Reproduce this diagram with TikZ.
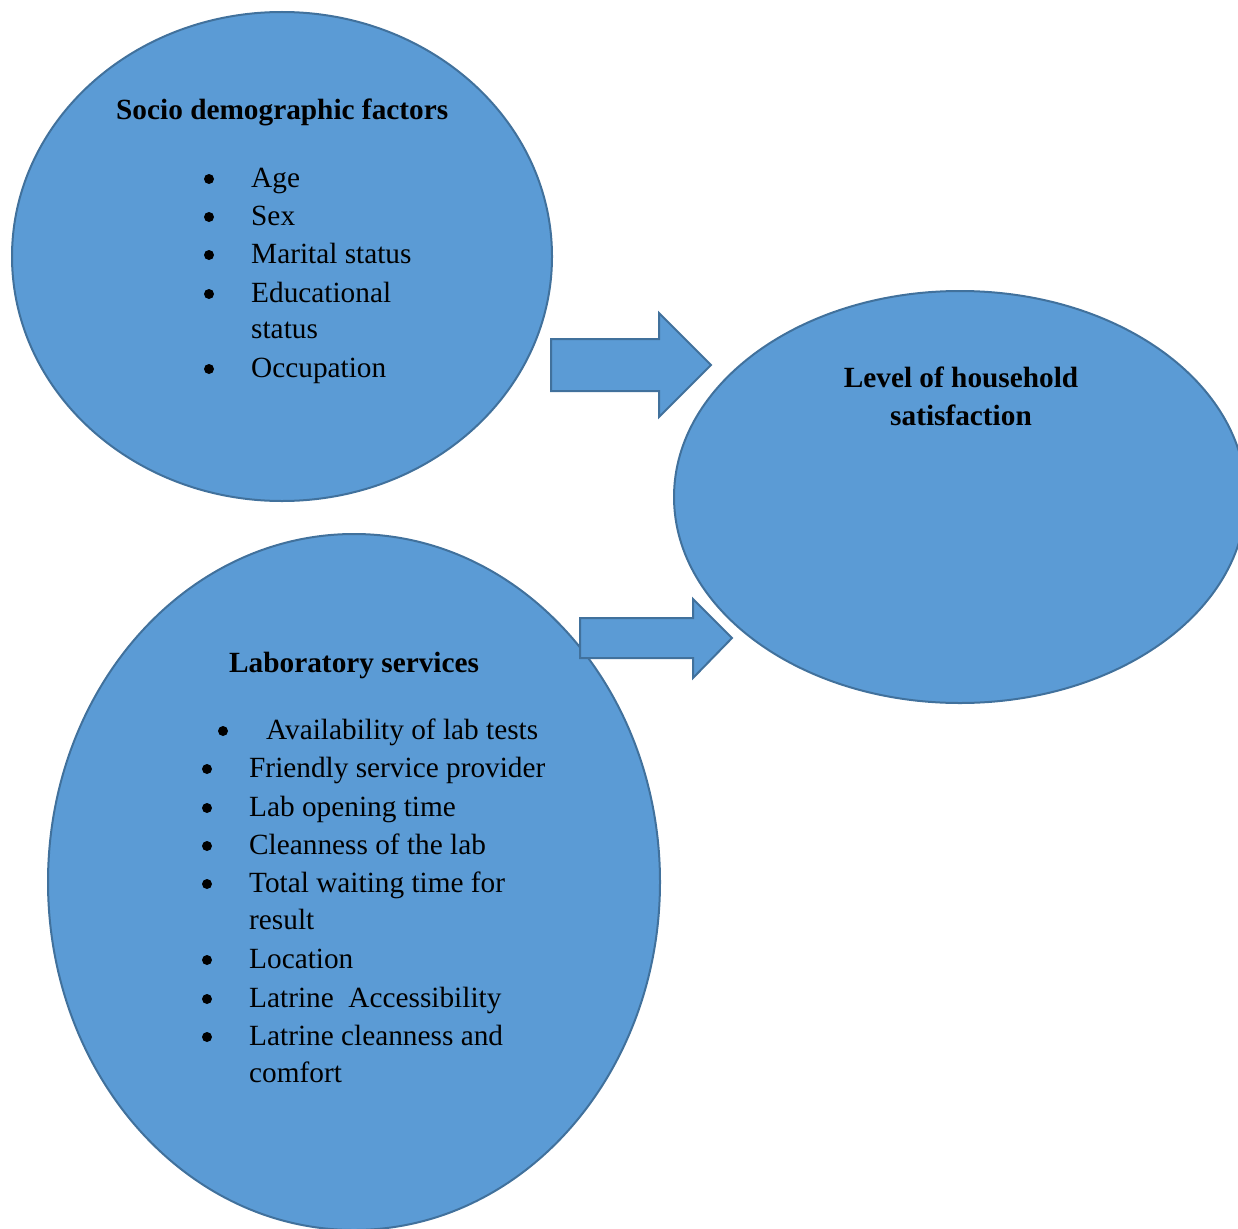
\documentclass[tikz,border=0pt]{standalone}
\usepackage{fontspec}
\setmainfont{Liberation Serif}
\usetikzlibrary{shapes.geometric}
\definecolor{fillblue}{HTML}{5B9BD5}
\definecolor{edgeblue}{HTML}{41719C}
\begin{document}
\begin{tikzpicture}[x=1pt,y=-1pt,
  blob/.style={fill=fillblue,draw=edgeblue,line width=2pt},
  oval/.style={blob,ellipse,inner sep=0pt},
  txt/.style={anchor=base west,inner sep=0pt,font=\fontsize{29.3}{38}\selectfont},
  ttl/.style={anchor=base west,inner sep=0pt,font=\fontsize{29.3}{38}\selectfont\bfseries},
  ctl/.style={anchor=base,inner sep=0pt,font=\fontsize{29.3}{38}\selectfont\bfseries},
  dot/.style={circle,fill=black,minimum size=10pt,inner sep=0pt}]
\path[use as bounding box] (0,0) rectangle (1238,1228);
\clip (0,0) rectangle (1238,1228);
% ovals
\node[oval,minimum width=540pt,minimum height=489pt] (socio) at (282,256.5) {};
\node[oval,minimum width=612pt,minimum height=696pt] (lab) at (354,882) {};
\node[oval,minimum width=572pt,minimum height=412pt] (level) at (960,497) {};
% block arrows
\draw[blob] (551,339) -- (659,339) -- (659,313) -- (711,365) -- (659,417) -- (659,391) -- (551,391) -- cycle;
\draw[blob] (580,618) -- (693,618) -- (693,599) -- (732,638) -- (693,678) -- (693,658) -- (580,658) -- cycle;
% socio text
\node[ttl] (s0) at (116,119) {Socio demographic factors};
\node[txt] (s1) at (251,187) {Age};
\node[txt] (s2) at (251,225) {Sex};
\node[txt] (s3) at (251,263) {Marital status};
\node[txt] (s4) at (251,302) {Educational};
\node[txt] (s5) at (251,338) {status};
\node[txt] (s6) at (251,377) {Occupation};
\node[dot] (sb1) at (209,179) {};
\node[dot] (sb2) at (209,217) {};
\node[dot] (sb3) at (209,255) {};
\node[dot] (sb4) at (209,294) {};
\node[dot] (sb6) at (209,369) {};
% lab text
\node[ttl] (l0) at (229,672) {Laboratory services};
\node[txt] (l1) at (266,739) {Availability of lab tests};
\node[txt] (l2) at (249,777) {Friendly service provider};
\node[txt] (l3) at (249,816) {Lab opening time};
\node[txt] (l4) at (249,854) {Cleanness of the lab};
\node[txt] (l5) at (249,892) {Total waiting time for};
\node[txt] (l6) at (249,929) {result};
\node[txt] (l7) at (249,968) {Location};
\node[txt] (l8) at (249,1007) {Latrine\ \ Accessibility};
\node[txt] (l9) at (249,1045) {Latrine cleanness and};
\node[txt] (l10) at (249,1082) {comfort};
\node[dot] (lb1) at (223,731) {};
\node[dot] (lb2) at (207,769) {};
\node[dot] (lb3) at (207,808) {};
\node[dot] (lb4) at (207,846) {};
\node[dot] (lb5) at (207,884) {};
\node[dot] (lb7) at (207,960) {};
\node[dot] (lb8) at (207,999) {};
\node[dot] (lb9) at (207,1037) {};
% level text
\node[ctl] (v1) at (961,387) {Level of household};
\node[ctl] (v2) at (961,425) {satisfaction};
\end{tikzpicture}
\end{document}
